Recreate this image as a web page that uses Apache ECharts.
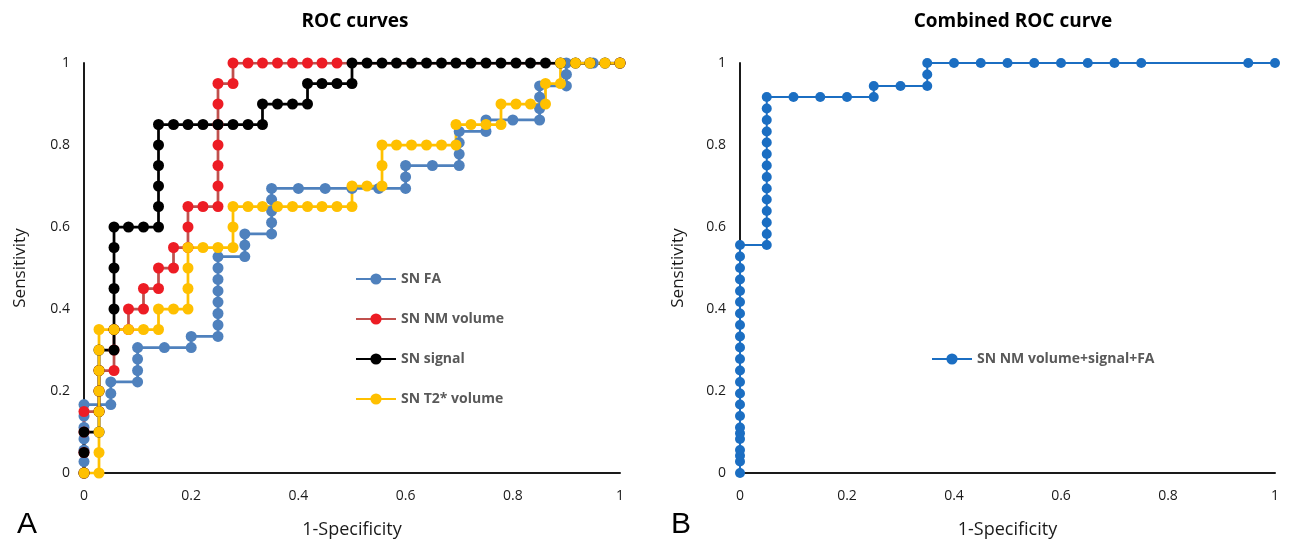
<!DOCTYPE html>
<html>
<head>
<meta charset="utf-8">
<script src="https://cdn.jsdelivr.net/npm/echarts@6/dist/echarts.min.js"></script>
<style>
html,body{margin:0;padding:0;background:#fff;}
#chart{width:1290px;height:540px;}
</style>
</head>
<body>
<div id="chart"></div>
<script>
// ---------- Data ----------
const xTicks = [0, 0.2, 0.4, 0.6, 0.8, 1];
const yTicks = [0, 0.2, 0.4, 0.6, 0.8, 1];

// Panel A: SN FA
const faX = [0,0,0,0,0,0,0, 0.05,0.05,0.05, 0.1,0.1,0.1,0.1, 0.15, 0.2,0.2,
  0.25,0.25,0.25,0.25,0.25,0.25,0.25,0.25, 0.3,0.3,0.3, 0.35,0.35,0.35,0.35,0.35,
  0.4,0.45,0.5,0.55, 0.6,0.6,0.6, 0.65, 0.7,0.7,0.7,0.7, 0.75,0.75, 0.8,
  0.85,0.85,0.85,0.85, 0.9,0.9,0.9, 0.95, 1];
const faY = [0,0.028,0.056,0.083,0.111,0.139,0.167, 0.167,0.194,0.222, 0.222,0.25,0.278,0.306, 0.306, 0.306,0.333,
  0.333,0.361,0.389,0.417,0.444,0.472,0.5,0.528, 0.528,0.556,0.583, 0.583,0.611,0.639,0.667,0.694,
  0.694,0.694,0.694,0.694, 0.694,0.722,0.75, 0.75, 0.75,0.778,0.806,0.833, 0.833,0.861, 0.861,
  0.861,0.889,0.917,0.944, 0.944,0.972,1, 1, 1];

// Panel A: SN NM volume
const nmX = [0,0,0,0, 0.028,0.028,0.028, 0.056,0.056,0.056, 0.083,0.083, 0.111,0.111, 0.139,0.139,
  0.167,0.167, 0.194,0.194,0.194, 0.222, 0.25,0.25,0.25,0.25,0.25,0.25,0.25, 0.278,0.278,
  0.306,0.333,0.361,0.389,0.417,0.444,0.472, 1];
const nmY = [0,0.05,0.1,0.15, 0.15,0.2,0.25, 0.25,0.3,0.35, 0.35,0.4, 0.4,0.45, 0.45,0.5,
  0.5,0.55, 0.55,0.6,0.65, 0.65, 0.65,0.7,0.75,0.8,0.85,0.9,0.95, 0.95,1,
  1,1,1,1,1,1,1, 1];

// Panel A: SN signal
const sigX = [0,0,0, 0.028,0.028,0.028,0.028,0.028, 0.056,0.056,0.056,0.056,0.056,0.056,0.056,
  0.083,0.111, 0.139,0.139,0.139,0.139,0.139,0.139, 0.167,0.194,0.222,0.25,0.278,0.306,0.333,
  0.333,0.361,0.389,0.417, 0.417,0.444,0.472,0.5, 0.5,0.528,0.556,0.583,0.611,0.639,0.667,0.694,
  0.722,0.75,0.778,0.806,0.833,0.861,0.889,0.917,0.944,0.972,1];
const sigY = [0,0.05,0.1, 0.1,0.15,0.2,0.25,0.3, 0.3,0.35,0.4,0.45,0.5,0.55,0.6,
  0.6,0.6, 0.6,0.65,0.7,0.75,0.8,0.85, 0.85,0.85,0.85,0.85,0.85,0.85,0.85,
  0.9,0.9,0.9,0.9, 0.95,0.95,0.95,0.95, 1,1,1,1,1,1,1,1,
  1,1,1,1,1,1,1,1,1,1,1];

// Panel A: SN T2* volume
const t2X = [0,0.028,0.028,0.028,0.028,0.028,0.028,0.028,0.028, 0.056,0.083,0.111,0.139,0.139,
  0.167,0.194,0.194,0.194,0.194, 0.222,0.25,0.278,0.278,0.278, 0.306,0.333,0.361,0.389,0.417,0.444,0.472,0.5,
  0.5,0.528,0.556,0.556,0.556, 0.583,0.611,0.639,0.667,0.694, 0.694,0.722,0.75,0.778, 0.778,0.806,0.833,0.861,
  0.861,0.889,0.889,0.917,0.944,0.972,1];
const t2Y = [0,0,0.05,0.1,0.15,0.2,0.25,0.3,0.35, 0.35,0.35,0.35,0.35,0.4,
  0.4,0.4,0.45,0.5,0.55, 0.55,0.55,0.55,0.6,0.65, 0.65,0.65,0.65,0.65,0.65,0.65,0.65,0.65,
  0.7,0.7,0.7,0.75,0.8, 0.8,0.8,0.8,0.8,0.8, 0.85,0.85,0.85,0.85, 0.9,0.9,0.9,0.9,
  0.95,0.95,1,1,1,1,1];

// Panel B: SN NM volume+signal+FA
const combX = [0,0,0,0,0,0,0,0,0,0,0,0,0,0,0,0,0,0,0,0,0,0,0,
  0.05,0.05,0.05,0.05,0.05,0.05,0.05,0.05,0.05,0.05,0.05,0.05,0.05,0.05,
  0.1,0.15,0.2,0.25, 0.25,0.3,0.35, 0.35,0.35, 0.4,0.45,0.5,0.55,0.6,0.65,0.7,0.75, 0.95,1];
const combY = [0,0.028,0.042,0.056,0.083,0.097,0.111,0.139,0.167,0.194,0.222,0.25,0.278,0.306,0.333,0.361,0.389,0.417,0.444,0.472,0.5,0.528,0.556,
  0.556,0.583,0.611,0.639,0.667,0.694,0.722,0.75,0.778,0.806,0.833,0.861,0.889,0.917,
  0.917,0.917,0.917,0.917, 0.944,0.944,0.944, 0.972,1, 1,1,1,1,1,1,1,1, 1,1];

const seriesNames = ['SN FA', 'SN NM volume', 'SN signal', 'SN T2* volume'];
const combName = 'SN NM volume+signal+FA';

// ---------- Helpers ----------
function zip(xs, ys) { return xs.map((x, i) => [x, ys[i]]); }

const FONT = "'Open Sans', 'Liberation Sans', sans-serif";

function xAxisDef(gi) {
  return {
    type: 'value', gridIndex: gi, min: 0, max: 1, interval: 0.2,
    name: '1-Specificity', nameLocation: 'middle', nameGap: 48,
    nameTextStyle: { fontFamily: FONT, fontSize: 18, color: '#1a1a1a' },
    axisLine: { show: true, onZero: false, lineStyle: { color: '#1a1a1a', width: 2 } },
    axisTick: { show: false }, splitLine: { show: false },
    axisLabel: { fontFamily: FONT, fontSize: 14, color: '#1a1a1a', margin: 16,
      formatter: v => (xTicks.includes(+v.toFixed(1)) ? String(+v.toFixed(1)) : '') }
  };
}
function yAxisDef(gi, gap) {
  return {
    type: 'value', gridIndex: gi, min: 0, max: 1, interval: 0.2,
    name: 'Sensitivity', nameLocation: 'middle', nameGap: gap,
    nameTextStyle: { fontFamily: FONT, fontSize: 17, color: '#1a1a1a' },
    axisLine: { show: true, onZero: false, lineStyle: { color: '#1a1a1a', width: 2 } },
    axisTick: { show: false }, splitLine: { show: false },
    axisLabel: { fontFamily: FONT, fontSize: 14, color: '#1a1a1a', margin: 14,
      formatter: v => (yTicks.includes(+v.toFixed(1)) ? String(+v.toFixed(1)) : '') }
  };
}
function lineSeries(name, data, gi, markerColor, lineColor, width, size) {
  return {
    name, type: 'line', xAxisIndex: gi, yAxisIndex: gi, data,
    symbol: 'circle', symbolSize: size, showSymbol: true,
    lineStyle: { color: lineColor, width: width },
    itemStyle: { color: markerColor, borderWidth: 0 },
    emphasis: { disabled: true }, animation: false
  };
}

const chart = echarts.init(document.getElementById('chart'), null, { renderer: 'canvas' });
chart.setOption({
  backgroundColor: '#ffffff',
  animation: false,
  title: [
    { text: 'ROC curves', left: 350, top: 7, textAlign: 'center',
      textStyle: { fontFamily: FONT, fontSize: 19, fontWeight: 'bold', color: '#000' } },
    { text: 'Combined ROC curve', left: 1008, top: 7, textAlign: 'center',
      textStyle: { fontFamily: FONT, fontSize: 19, fontWeight: 'bold', color: '#000' } },
    { text: 'A', left: 12, top: 505,
      textStyle: { fontFamily: "'Liberation Sans', sans-serif", fontSize: 30, fontWeight: 'normal', color: '#000' } },
    { text: 'B', left: 666, top: 505,
      textStyle: { fontFamily: "'Liberation Sans', sans-serif", fontSize: 30, fontWeight: 'normal', color: '#000' } }
  ],
  grid: [
    { left: 84, right: 670, top: 63, bottom: 67, outerBoundsMode: 'none', containLabel: false },
    { left: 740, right: 15, top: 63, bottom: 67, outerBoundsMode: 'none', containLabel: false }
  ],
  xAxis: [xAxisDef(0), xAxisDef(1)],
  yAxis: [yAxisDef(0, 55), yAxisDef(1, 53)],
  legend: [
    { data: seriesNames, orient: 'vertical', left: 350, top: 267, itemWidth: 40, itemHeight: 14, itemGap: 26,
      selectedMode: false,
      textStyle: { fontFamily: FONT, fontSize: 14, fontWeight: 'bold', color: '#595959', lineHeight: 14 } },
    { data: [combName], orient: 'vertical', left: 926, top: 347, itemWidth: 40, itemHeight: 14,
      selectedMode: false,
      textStyle: { fontFamily: FONT, fontSize: 14, fontWeight: 'bold', color: '#595959', lineHeight: 14 } }
  ],
  series: [
    lineSeries(seriesNames[0], zip(faX, faY), 0, '#4f81bd', '#4f81bd', 2.75, 11),
    lineSeries(seriesNames[1], zip(nmX, nmY), 0, '#ed1c24', '#c0504d', 2.75, 11),
    lineSeries(seriesNames[2], zip(sigX, sigY), 0, '#000000', '#000000', 2.75, 11),
    lineSeries(seriesNames[3], zip(t2X, t2Y), 0, '#ffc000', '#ffc000', 2.75, 11),
    lineSeries(combName, zip(combX, combY), 1, '#1b6ec2', '#1b6ec2', 2, 10)
  ]
});
</script>
</body>
</html>
